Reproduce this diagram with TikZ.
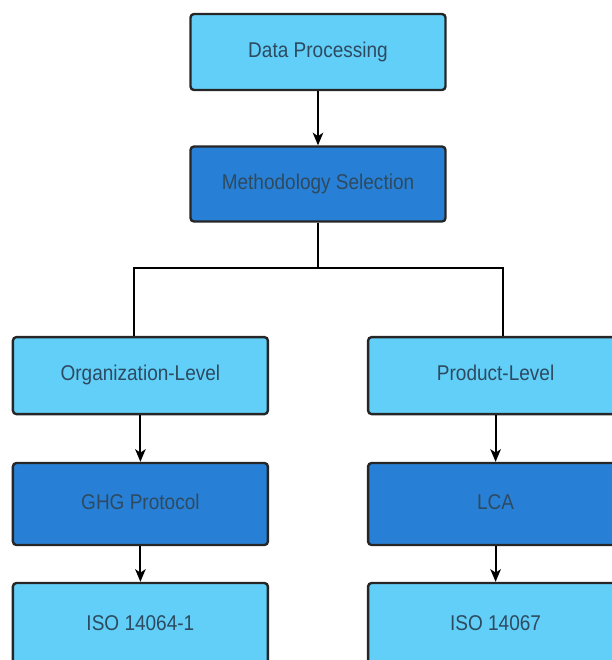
\documentclass[tikz,border=0pt]{standalone}
\usepackage{fontspec}
\setmainfont[FakeStretch=0.89]{Liberation Sans}
\usetikzlibrary{arrows.meta}
\definecolor{lightbox}{HTML}{62CFF8}
\definecolor{darkbox}{HTML}{2880D6}
\definecolor{boxtext}{HTML}{2D4A60}
\newcommand{\boxwd}{6.375cm}
\tikzset{
  stage/.style={draw=black!85, line width=1.7pt, rounded corners=2.5pt,
    minimum width=\boxwd, text=boxtext, font=\fontsize{15.2}{18}\selectfont,
    text height=0.72em, text depth=0pt},
  lightstage/.style={stage, fill=lightbox, minimum height=1.9cm},
  darkstage/.style={stage, fill=darkbox, minimum height=1.9cm},
  flow/.style={line width=1.3pt, -{Stealth[length=9pt,width=7.5pt,inset=2.5pt]}},
  link/.style={line width=1.4pt}
}
\begin{document}
\begin{tikzpicture}
\useasboundingbox (0,0) rectangle (15.3,-16.5);
    % Methodology choice tree
\node (dp) at (7.95,-1.3) [lightstage] {Data Processing};
\node (ms) at (7.95,-4.6) [darkstage, minimum height=1.875cm] {Methodology Selection};
\node (org) at (3.51,-9.39) [lightstage, minimum height=1.925cm] {Organization-Level};
\node (prod) at (12.39,-9.39) [lightstage, minimum height=1.925cm] {Product-Level};
\node (ghg) at (3.51,-12.6) [darkstage, minimum height=2.05cm] {GHG Protocol};
\node (lca) at (12.39,-12.6) [darkstage, minimum height=2.05cm] {LCA};
\node (iso1) at (3.51,-15.625) [lightstage, minimum height=2.1cm] {ISO 14064-1};
\node (iso2) at (12.39,-15.625) [lightstage, minimum height=2.1cm] {ISO 14067};
\coordinate (fork) at (7.95,-6.7);

\draw[flow] (dp) to (ms);
\draw[link] (ms.south) to (fork);
\draw[link] (fork) -| ([xshift=-4.5pt]org.north);
\draw[link] (fork) -| ([xshift=5pt]prod.north);
\draw[flow] (org) to (ghg);
\draw[flow] (ghg) to (iso1);
\draw[flow] (prod) to (lca);
\draw[flow] (lca) to (iso2);

  \end{tikzpicture}
\end{document}
